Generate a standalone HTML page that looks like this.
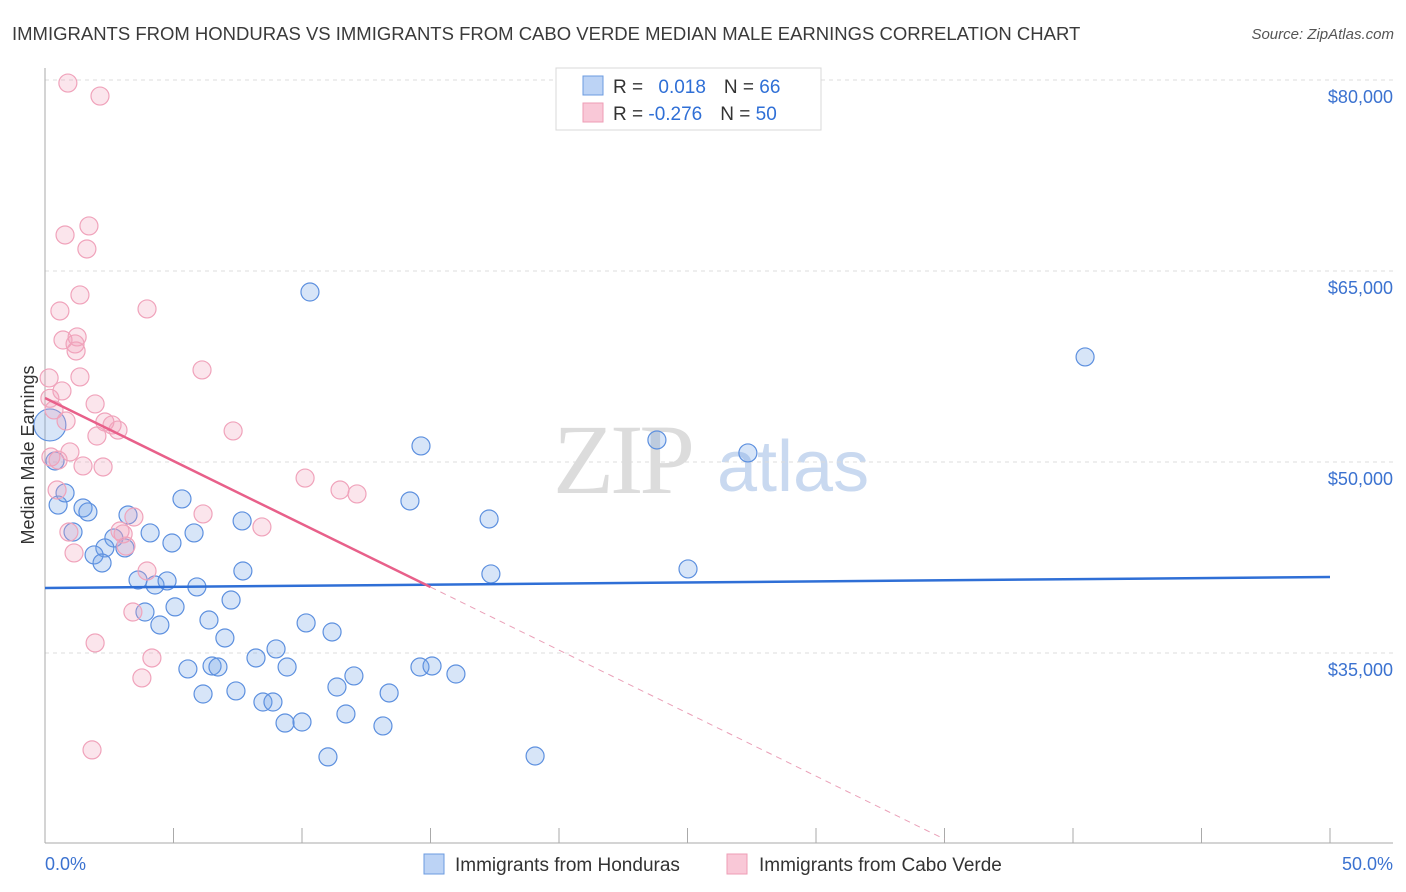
<!DOCTYPE html>
<html><head><meta charset="utf-8"><style>
body{margin:0;background:#fff;font-family:"Liberation Sans",sans-serif}
</style></head><body>
<svg id="chart" width="1406" height="892" viewBox="0 0 1406 892" xmlns="http://www.w3.org/2000/svg" style="display:block">
<text x="12" y="40" font-size="18.5" fill="#3a3a3a">IMMIGRANTS FROM HONDURAS VS IMMIGRANTS FROM CABO VERDE MEDIAN MALE EARNINGS CORRELATION CHART</text>
<text x="1394" y="39" font-size="15" fill="#555" font-style="italic" text-anchor="end">Source: ZipAtlas.com</text>
<g>
<text x="553" y="493" font-family="Liberation Serif,serif" font-size="100" fill="#dcdcdc" letter-spacing="-4">ZIP</text>
<text x="717" y="491" font-size="72" fill="#c9d9f0">atlas</text>
</g>
<g id="grid"></g>
<g id="axes"></g>
<g id="marks"></g>
<g id="trends"></g>
<text transform="translate(34,455) rotate(-90)" font-size="18" fill="#333" text-anchor="middle">Median Male Earnings</text>
<text x="45" y="870" font-size="18" fill="#3b72d0">0.0%</text>
<text x="1393" y="870" font-size="18" fill="#3b72d0" text-anchor="end">50.0%</text>
<g>
<rect x="556" y="68" width="265" height="62" fill="#fff" stroke="#d8d8d8"/>
<rect x="583" y="76" width="20" height="19" fill="#bcd3f5" stroke="#6b9be0"/>
<rect x="583" y="103" width="20" height="19" fill="#f9c8d7" stroke="#ee9db6"/>
<text x="613" y="93" font-size="19" fill="#333">R = <tspan fill="#2f6fd6" dx="10">0.018</tspan><tspan dx="18" fill="#333">N = </tspan><tspan fill="#2f6fd6">66</tspan></text>
<text x="613" y="120" font-size="19" fill="#333">R = <tspan fill="#2f6fd6">-0.276</tspan><tspan dx="18" fill="#333">N = </tspan><tspan fill="#2f6fd6">50</tspan></text>
</g>
<g>
<rect x="424" y="854" width="20" height="20" fill="#bcd3f5" stroke="#6b9be0"/>
<text x="455" y="871" font-size="19" fill="#333">Immigrants from Honduras</text>
<rect x="727" y="854" width="20" height="20" fill="#f9c8d7" stroke="#ee9db6"/>
<text x="759" y="871" font-size="19" fill="#333">Immigrants from Cabo Verde</text>
</g>
</svg>
<script>
const yTicks=[80000,65000,50000,35000];
const yTickLabels=["$80,000","$65,000","$50,000","$35,000"];
const xTicks=[0,5,10,15,20,25,30,35,40,45,50];
const hondurasX=[10.31,40.47,14.63,23.81,27.35,14.20,17.28,5.33,7.67,3.23,0.51,0.78,1.48,1.67,1.09,2.68,4.09,4.94,5.80,2.33,3.11,1.91,2.22,3.62,4.28,4.75,5.91,7.70,17.35,25.02,3.89,4.47,5.06,6.38,7.24,7.00,10.16,11.17,5.56,6.50,6.73,8.21,8.99,9.42,12.02,14.59,15.06,15.99,6.15,7.43,8.48,8.87,11.36,13.39,9.34,10.00,11.71,13.15,11.01,19.07,0.39,0.19];
const hondurasY=[63350,58250,51260,51730,50710,46940,45525,47100,45370,45840,46620,47570,46390,46080,44500,44030,44430,43640,44430,43250,43250,42700,42070,40735,40340,40660,40190,41440,41210,41600,38220,37200,38620,37590,39160,36180,37360,36650,33750,33980,33900,34610,35320,33900,33200,33900,33980,33350,31780,32020,31150,31150,32330,31860,29500,29580,30210,29270,26840,26910,50080,52910];
const caboX=[0.89,2.14,1.71,0.78,1.63,1.36,0.58,3.97,1.25,0.70,1.17,1.21,6.11,0.16,1.36,0.66,0.19,1.95,0.35,0.82,2.33,2.61,2.84,7.32,2.02,0.97,0.23,0.51,1.48,2.26,10.12,11.48,12.14,0.47,6.15,3.46,8.44,2.92,0.93,3.04,3.15,1.13,3.97,3.42,1.95,4.16,3.77,1.83];
const caboY=[79760,78740,68540,67830,66730,63120,61860,62020,59820,59580,59270,58720,57230,56600,56680,55580,55000,54560,54090,53220,53140,52910,52510,52440,52040,50790,50390,50150,49690,49610,48740,47800,47490,47800,45920,45680,44900,44580,44500,44350,43400,42860,41440,38220,35790,34610,33040,27390];
const hondurasTrend=[[0,40107],[50,40970]];
const caboTrendSolid=[[0,55030],[15,40180]];
const caboTrendDash=[[15,40180],[35,20380]];

const NS="http://www.w3.org/2000/svg";
const xs=p=>45+p*25.7;
const ys=v=>80+(80000-v)*191/15000;
function mk(tag,attrs,parent){const e=document.createElementNS(NS,tag);for(const k in attrs)e.setAttribute(k,attrs[k]);parent.appendChild(e);return e;}
const grid=document.getElementById('grid'),axes=document.getElementById('axes'),marks=document.getElementById('marks'),trends=document.getElementById('trends');
yTicks.forEach((v,i)=>{
  const l=mk('line',{x1:45,x2:1393,y1:ys(v),y2:ys(v),stroke:'#dcdcdc','stroke-dasharray':'4,4'},grid);
  
  
  const t=mk('text',{x:1393,y:ys(v)+23,'font-size':18,fill:'#3b72d0','text-anchor':'end'},axes);
  t.textContent=yTickLabels[i];
  
  
});
const ax=mk('line',{x1:45,x2:45,y1:68,y2:843,stroke:'#aaa'},axes);


const bx=mk('line',{x1:45,x2:1393,y1:843,y2:843,stroke:'#aaa'},axes);


xTicks.forEach(p=>{
  const t=mk('line',{x1:xs(p),x2:xs(p),y1:828,y2:843,stroke:'#aaa'},axes);
  
  
});
hondurasX.forEach((p,i)=>{
  const big=i>=hondurasX.length-1;
  const c=mk('circle',{cx:xs(p),cy:ys(hondurasY[i]),r:big?16:9,fill:'rgba(110,160,230,0.28)',stroke:'#5d90df','stroke-width':1.2},marks);
  
  
});
caboX.forEach((p,i)=>{
  const c=mk('circle',{cx:xs(p),cy:ys(caboY[i]),r:9,fill:'rgba(242,160,188,0.28)',stroke:'#f0a3bb','stroke-width':1.2},marks);
  
  
});
function tl(pts,color,w,dash,name){
  const l=mk('line',{x1:xs(pts[0][0]),y1:ys(pts[0][1]),x2:xs(pts[1][0]),y2:ys(pts[1][1]),stroke:color,'stroke-width':w},trends);
  if(dash)l.setAttribute('stroke-dasharray',dash);
  
  
}
tl(hondurasTrend,'#2f6fd6',2.5,null,'trend-honduras');
tl(caboTrendSolid,'#e8608a',2.5,null,'trend-cabo-verde');
tl(caboTrendDash,'#eaa0b8',1,'6,5','trend-cabo-verde-extension');
</script>
</body></html>
